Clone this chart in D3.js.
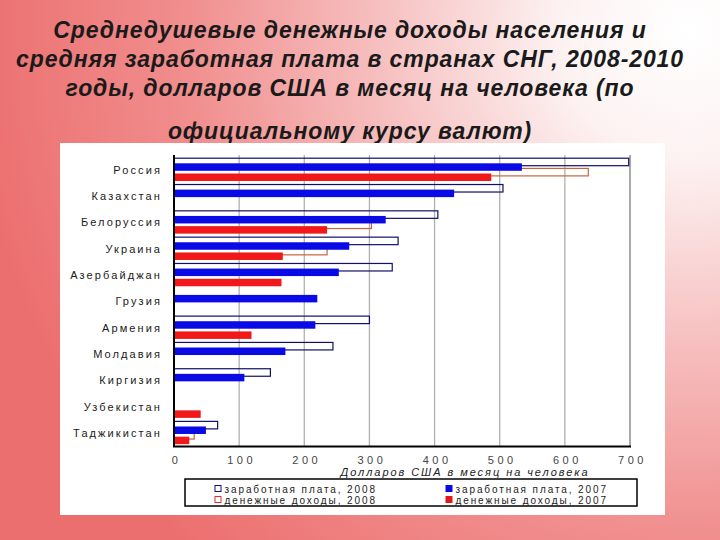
<!DOCTYPE html>
<html><head><meta charset="utf-8">
<script src="https://cdn.jsdelivr.net/npm/d3@7"></script>
<style>html,body{margin:0;padding:0;overflow:hidden;background:#fff}</style>
</head><body>
<script>
const titleLines = ["Среднедушевые денежные доходы населения и","средняя заработная плата в странах СНГ, 2008-2010","годы, долларов США в месяц на человека (по","официальному курсу валют)"];
const countries = ["Россия","Казахстан","Белоруссия","Украина","Азербайджан","Грузия","Армения","Молдавия","Киргизия","Узбекистан","Таджикистан"];
const wage2008   = [698, 505, 405, 344, 335, null, 300, 244, 148, null, 67];
const wage2007   = [534, 430, 325, 269, 253, 220, 217, 171, 108, null, 49];
const income2008 = [636, null, 303, 235, null, null, null, null, null, null, 31];
const income2007 = [487, null, 235, 167, 165, null, 119, null, null, 41, 23.5];
const xTicks = [0,100,200,300,400,500,600,700];
const xTitle = "Долларов США в месяц на человека";
const legendLabels = ["заработная плата, 2008","заработная плата, 2007","денежные доходы, 2008","денежные доходы, 2007"];

const W=720,H=540;
const svg=d3.select("body").append("svg").attr("width",W).attr("height",H);
const defs=svg.append("defs");
const rg=defs.append("radialGradient").attr("id","bg").attr("gradientUnits","userSpaceOnUse")
  .attr("cx",690).attr("cy",30).attr("r",720);
rg.append("stop").attr("offset",0).attr("stop-color","#ffffff");
rg.append("stop").attr("offset",0.18).attr("stop-color","#fdf2f2");
rg.append("stop").attr("offset",0.42).attr("stop-color","#f7c2c2");
rg.append("stop").attr("offset",0.7).attr("stop-color","#f18e8e");
rg.append("stop").attr("offset",1).attr("stop-color","#ec6f6f");
svg.append("rect").attr("width",W).attr("height",H).attr("fill","url(#bg)");

// title
const ty=[38,67,96,139];
svg.append("g").selectAll("text").data(titleLines).join("text")
  .attr("x",350).attr("y",(d,i)=>ty[i]).attr("text-anchor","middle")
  .attr("font-family","Liberation Sans, Arial, sans-serif").attr("font-weight","bold")
  .attr("font-style","italic").attr("font-size",23).attr("letter-spacing",0.9)
  .attr("fill","#1a1a1a").text(d=>d);

// panel
svg.append("rect").attr("x",60).attr("y",143).attr("width",605).attr("height",372).attr("fill","#fff");

const x=d3.scaleLinear().domain([0,700]).range([174,630]);
const y=d3.scaleBand().domain(countries).range([157,446.5]).padding(0);
const step=5.1, bh=7.5, off0=1.2;

// gridlines
svg.append("g").selectAll("line").data(xTicks.slice(1)).join("line")
  .attr("x1",d=>x(d)).attr("x2",d=>x(d)).attr("y1",155).attr("y2",446)
  .attr("stroke",d=>d===700?"#7a7a7a":"#b0b0b0").attr("stroke-width",1.3);

const series=[
  {vals:wage2008, idx:0, fill:"none", stroke:"#10106a"},
  {vals:income2008, idx:2, fill:"none", stroke:"#c8643c"},
  {vals:wage2007, idx:1, fill:"#0a0ae6", stroke:"none"},
  {vals:income2007, idx:3, fill:"#f01818", stroke:"none"}
];
series.forEach(s=>{
  const data=countries.map((c,i)=>({c,v:s.vals[i]})).filter(d=>d.v!=null);
  svg.append("g").selectAll("rect").data(data).join("rect")
    .attr("x",x(0)).attr("y",d=>y(d.c)+off0+s.idx*step)
    .attr("width",d=>x(d.v)-x(0)).attr("height",bh)
    .attr("fill",s.fill).attr("stroke",s.stroke).attr("stroke-width",1.2);
});

// axes lines
svg.append("line").attr("x1",174).attr("x2",174).attr("y1",155).attr("y2",447).attr("stroke","#000").attr("stroke-width",2);
svg.append("line").attr("x1",173).attr("x2",631).attr("y1",446.5).attr("y2",446.5).attr("stroke","#000").attr("stroke-width",2);

// y labels
const yAxis=d3.axisLeft(y).tickSize(0).tickPadding(0);
const yg=svg.append("g").attr("transform","translate(162,0)").call(yAxis);
yg.select(".domain").remove();
yg.selectAll("text").attr("font-family","Liberation Sans, Arial, sans-serif").attr("font-size",11)
  .attr("letter-spacing",2.1).attr("fill","#1a1a1a");

// x labels
const xAxis=d3.axisBottom(x).tickValues(xTicks).tickSize(0).tickPadding(0).tickFormat(d3.format("d"));
const xg=svg.append("g").attr("transform","translate(2,456.5)").call(xAxis);
xg.select(".domain").remove();
xg.selectAll("text").attr("font-family","Liberation Sans, Arial, sans-serif").attr("font-size",11)
  .attr("letter-spacing",3.5).attr("fill","#444");

svg.append("text").attr("x",465).attr("y",476).attr("text-anchor","middle")
  .attr("font-family","Liberation Sans, Arial, sans-serif").attr("font-style","italic")
  .attr("font-size",11).attr("letter-spacing",1.95).attr("fill","#222").text(xTitle);

// legend
svg.append("rect").attr("x",185).attr("y",479).attr("width",452).attr("height",27)
  .attr("fill","#fff").attr("stroke","#000").attr("stroke-width",1.5);
const leg=[
  {x:215,y:489,fill:"none",stroke:"#10106a",t:legendLabels[0]},
  {x:446,y:489,fill:"#0a0ae6",stroke:"#0a0ae6",t:legendLabels[1]},
  {x:215,y:500,fill:"none",stroke:"#e03030",t:legendLabels[2]},
  {x:446,y:500,fill:"#e01818",stroke:"#e01818",t:legendLabels[3]}
];
const lg=svg.append("g").selectAll("g").data(leg).join("g");
lg.append("rect").attr("x",d=>d.x).attr("y",d=>d.y-3.5).attr("width",6).attr("height",6)
  .attr("fill",d=>d.fill).attr("stroke",d=>d.stroke).attr("stroke-width",1);
lg.append("text").attr("x",d=>d.x+9.5).attr("y",d=>d.y+3.5)
  .attr("font-family","Liberation Sans, Arial, sans-serif").attr("font-size",10)
  .attr("letter-spacing",1.9).attr("fill","#222").text(d=>d.t);
</script>
</body></html>
